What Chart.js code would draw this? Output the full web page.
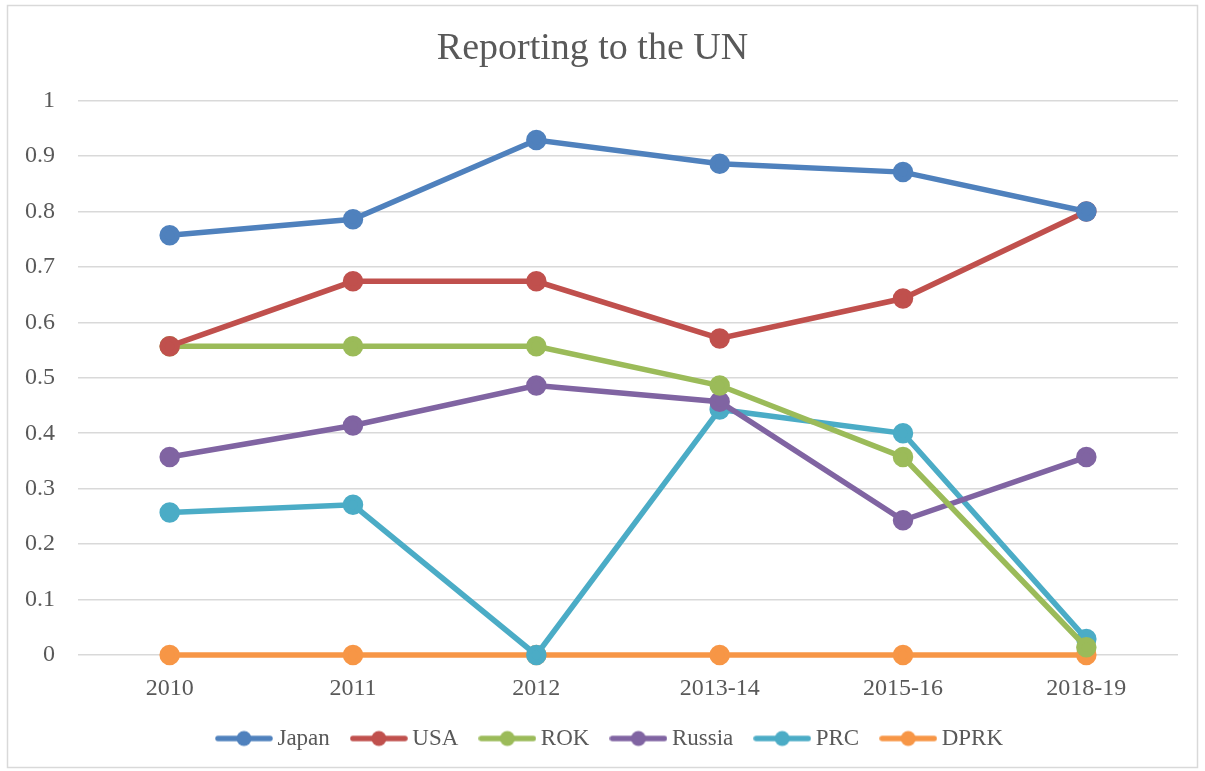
<!DOCTYPE html>
<html>
<head>
<meta charset="utf-8">
<script src="https://cdn.jsdelivr.net/npm/chart.js@4"></script>
<style>
html,body{margin:0;padding:0;background:#fff;}
#wrap{position:relative;width:1205px;height:771px;}
</style>
</head>
<body>
<div id="wrap"><canvas id="c" width="1205" height="771"></canvas></div>
<script>
const categories = ["2010", "2011", "2012", "2013-14", "2015-16", "2018-19"];
const japan  = [0.757, 0.786, 0.929, 0.886, 0.871, 0.800];
const usa    = [0.557, 0.674, 0.674, 0.571, 0.643, 0.800];
const rok    = [0.557, 0.557, 0.557, 0.486, 0.357, 0.014];
const russia = [0.357, 0.414, 0.486, 0.457, 0.243, 0.357];
const prc    = [0.257, 0.271, 0.000, 0.443, 0.400, 0.029];
const dprk   = [0, 0, 0, 0, 0, 0];
const seriesNames = ["Japan", "USA", "ROK", "Russia", "PRC", "DPRK"];
const colors = ["#4f81bd", "#c0504d", "#9bbb59", "#8064a2", "#4bacc6", "#f79646"];
const yTicks = [0, 0.1, 0.2, 0.3, 0.4, 0.5, 0.6, 0.7, 0.8, 0.9, 1];

const values = [japan, usa, rok, russia, prc, dprk];
const FONT = "'Liberation Serif', 'DejaVu Serif', serif";
const TEXT = '#595959';

function legendIcon(color) {
  const cv = document.createElement('canvas');
  cv.width = 58; cv.height = 18;
  const g = cv.getContext('2d');
  g.strokeStyle = color; g.lineWidth = 5.5; g.lineCap = 'round';
  g.beginPath(); g.moveTo(3, 9); g.lineTo(55, 9); g.stroke();
  g.fillStyle = color; g.beginPath(); g.arc(29, 9, 7.5, 0, Math.PI * 2); g.fill();
  return cv;
}
const icons = colors.map(legendIcon);

const framePlugin = {
  id: 'frame',
  beforeUpdate(chart) {
    const lg = chart.legend;
    if (lg && !lg._patched) {
      const orig = lg.fit.bind(lg);
      lg.fit = function () { orig(); this.height = 71; };
      lg._patched = true;
    }
  },
  afterLayout(chart) {
    const lg = chart.legend;
    if (lg) { lg.left += 20; lg.right += 20; }
  },
  beforeDraw(chart) {
    const ctx = chart.ctx;
    ctx.save();
    ctx.fillStyle = '#fff';
    ctx.fillRect(0, 0, chart.width, chart.height);
    ctx.strokeStyle = '#d9d9d9';
    ctx.lineWidth = 1.5;
    ctx.strokeRect(7.5, 5.5, 1190, 762);
    ctx.restore();
  }
};

new Chart(document.getElementById('c'), {
  type: 'line',
  data: {
    labels: categories,
    datasets: values.map((v, i) => ({
      label: seriesNames[i],
      data: v,
      borderColor: colors[i],
      backgroundColor: colors[i],
      pointBackgroundColor: colors[i],
      pointBorderColor: colors[i],
      borderWidth: 5.5,
      pointRadius: 7.5,
      pointHoverRadius: 7.5,
      tension: 0,
      clip: false
    }))
  },
  options: {
    responsive: false,
    animation: false,
    devicePixelRatio: 1,
    layout: { padding: { left: 7, right: 27, top: 0, bottom: 0 } },
    plugins: {
      title: {
        display: true,
        text: 'Reporting to the UN',
        color: TEXT,
        font: { family: FONT, size: 38, weight: 'normal' },
        padding: { top: 26, bottom: 29 }
      },
      legend: {
        position: 'bottom',
        labels: {
          color: TEXT,
          font: { family: FONT, size: 23 },
          usePointStyle: true,
          pointStyleWidth: 44,
          padding: 27,
          generateLabels(chart) {
            return chart.data.datasets.map((d, i) => ({
              text: d.label,
              pointStyle: icons[i],
              fillStyle: d.borderColor,
              strokeStyle: d.borderColor,
              fontColor: TEXT,
              lineWidth: 0,
              hidden: false,
              datasetIndex: i
            }));
          }
        }
      },
      tooltip: { enabled: false }
    },
    scales: {
      x: {
        offset: true,
        afterFit(s) { s.height = 45; },
        grid: { display: false },
        border: { display: false },
        ticks: { color: TEXT, font: { family: FONT, size: 24 }, padding: 11, maxRotation: 0 }
      },
      y: {
        min: 0, max: 1,
        afterFit(s) { s.width = 71; },
        afterBuildTicks(s) { s.ticks = yTicks.map(v => ({ value: v })); },
        grid: { color: '#d9d9d9', lineWidth: 1.5, drawTicks: false },
        border: { display: false },
        ticks: {
          color: TEXT,
          font: { family: FONT, size: 24 },
          padding: 23,
          callback: v => String(Math.round(v * 10) / 10)
        }
      }
    }
  },
  plugins: [framePlugin]
});
</script>
</body>
</html>
